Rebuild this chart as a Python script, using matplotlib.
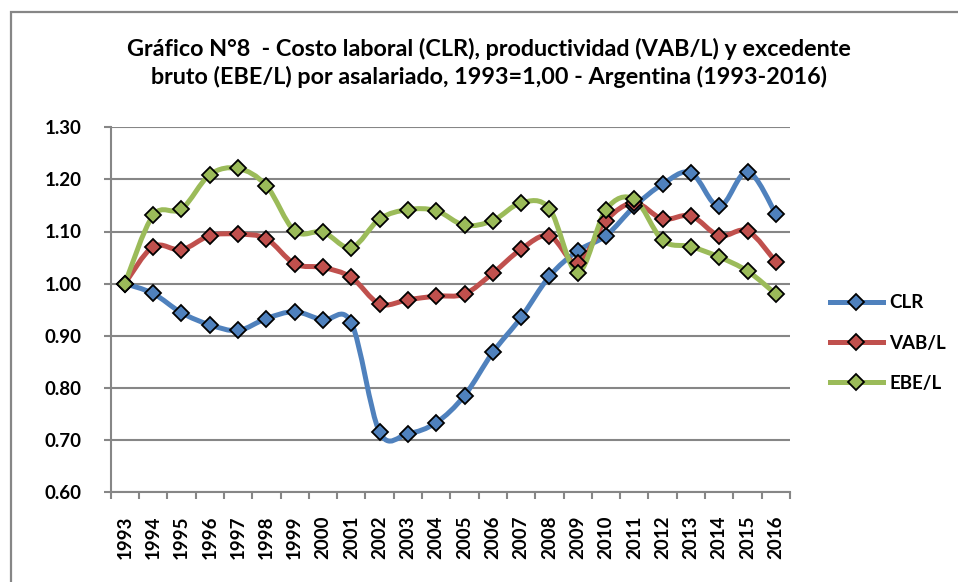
import numpy as np
import matplotlib
matplotlib.use("Agg")
import matplotlib.pyplot as plt
from matplotlib.path import Path
from matplotlib.patches import PathPatch, Rectangle
from matplotlib.lines import Line2D

years = [str(y) for y in range(1993, 2017)]
clr = [1.000, 0.981, 0.944, 0.921, 0.910, 0.933, 0.946, 0.930, 0.925, 0.715,
       0.712, 0.733, 0.785, 0.868, 0.935, 1.014, 1.063, 1.092, 1.148, 1.191,
       1.213, 1.148, 1.215, 1.134]
vab = [1.000, 1.071, 1.065, 1.092, 1.095, 1.086, 1.038, 1.031, 1.012, 0.961,
       0.969, 0.976, 0.980, 1.020, 1.066, 1.092, 1.039, 1.121, 1.155, 1.124,
       1.130, 1.092, 1.101, 1.042]
ebe = [1.000, 1.131, 1.143, 1.209, 1.221, 1.188, 1.101, 1.099, 1.069, 1.124,
       1.142, 1.140, 1.112, 1.121, 1.155, 1.144, 1.021, 1.142, 1.162, 1.083,
       1.071, 1.051, 1.024, 0.980]
series_names = ["CLR", "VAB/L", "EBE/L"]
colors = ["#4F81BD", "#C0504D", "#9BBB59"]
yticks = [0.60, 0.70, 0.80, 0.90, 1.00, 1.10, 1.20, 1.30]

title = ("Gráfico N°8  - Costo laboral (CLR), productividad (VAB/L) y excedente\n"
         "bruto (EBE/L) por asalariado, 1993=1,00 - Argentina (1993-2016)")

FONT = "Lato"
GRAY = "#868686"
TICK_FS = 13.5

fig = plt.figure(figsize=(9.58, 5.82), dpi=100)
W, H = 958, 582
ax = fig.add_axes([110.7 / W, 1 - 492 / H, (790 - 110.7) / W, (492 - 127.3) / H])

# outer chart frame (only left and top edges visible in the reference)
fig.patches.append(Rectangle((11 / W, -0.1), 1.2, 1 - 12 / H + 0.1,
                             transform=fig.transFigure, fill=False,
                             edgecolor=GRAY, linewidth=1.6))


def smooth_path(xs, ys):
    pts = np.column_stack([xs, ys]).astype(float)
    n = len(pts)
    verts = [pts[0]]
    codes = [Path.MOVETO]
    for i in range(n - 1):
        p0 = pts[i - 1] if i > 0 else pts[i]
        p1 = pts[i]
        p2 = pts[i + 1]
        p3 = pts[i + 2] if i + 2 < n else pts[i + 1]
        c1 = p1 + (p2 - p0) / 6.0
        c2 = p2 - (p3 - p1) / 6.0
        verts += [c1, c2, p2]
        codes += [Path.CURVE4] * 3
    return Path(verts, codes)


x = np.arange(len(years))
for vals, col in zip([clr, vab, ebe], colors):
    ax.add_patch(PathPatch(smooth_path(x, vals), facecolor="none",
                           edgecolor=col, linewidth=3.6, capstyle="round",
                           joinstyle="round", zorder=3))
for vals, col in zip([clr, vab, ebe], colors):
    ax.plot(x, vals, linestyle="none", marker="D", markersize=8.5,
            markerfacecolor=col, markeredgecolor="black",
            markeredgewidth=1.3, zorder=4)

ax.set_xlim(-0.5, len(years) - 0.5)
ax.set_ylim(0.60, 1.30)
ax.set_yticks(yticks)
ax.set_yticklabels([f"{v:.2f}" for v in yticks])
ax.yaxis.grid(True, color=GRAY, linewidth=1.5)
ax.set_axisbelow(True)

ax.set_xticks(x)
ax.set_xticklabels(years, rotation=90)
ax.set_xticks(np.arange(-0.5, len(years)), minor=True)
ax.tick_params(axis="x", which="major", length=0, pad=17)
ax.tick_params(axis="x", which="minor", length=5, width=1.5, color=GRAY)
ax.tick_params(axis="y", length=5, width=1.5, color=GRAY, pad=16)

for lab in ax.get_xticklabels() + ax.get_yticklabels():
    lab.set_fontfamily(FONT)
    lab.set_fontweight("bold")
    lab.set_fontsize(TICK_FS)
    lab.set_color("black")

for side in ["top", "right"]:
    ax.spines[side].set_visible(False)
for side in ["left", "bottom"]:
    ax.spines[side].set_color(GRAY)
    ax.spines[side].set_linewidth(1.5)

fig.text(489 / W, 1 - 63 / H, title, ha="center", va="center",
         fontfamily=FONT, fontweight="bold", fontsize=16.8, linespacing=1.3)

handles = [Line2D([0], [0], color=c, linewidth=3.6, marker="D", markersize=8.5,
                  markerfacecolor=c, markeredgecolor="black", markeredgewidth=1.3)
           for c in colors]
leg = fig.legend(handles, series_names, loc="center left",
                 bbox_to_anchor=(830 / W, 1 - 343 / H), frameon=False,
                 prop={"family": FONT, "weight": "bold", "size": TICK_FS},
                 handlelength=2.8, handletextpad=0.35, labelspacing=1.25,
                 borderaxespad=0, borderpad=0)

fig.savefig("out.png", dpi=100, facecolor="white")
